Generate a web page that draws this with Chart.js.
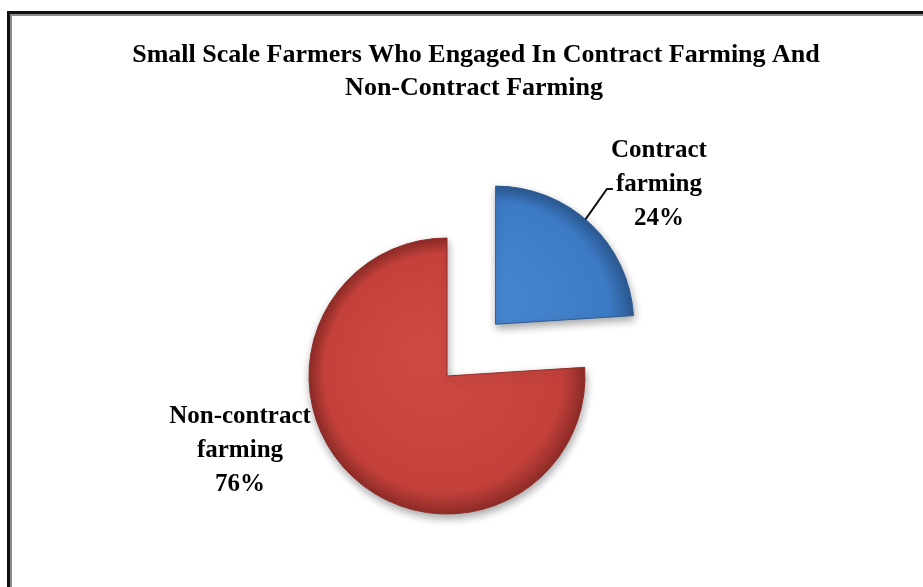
<!DOCTYPE html>
<html>
<head>
<meta charset="utf-8">
<script src="https://cdn.jsdelivr.net/npm/chart.js@4.4.0/dist/chart.umd.min.js"></script>
<style>
  html, body { margin: 0; padding: 0; background: #fff; }
  #wrap { position: relative; width: 923px; height: 587px; overflow: hidden; }
  #frame {
    position: absolute; left: 7px; top: 11px; right: -20px; bottom: -20px;
    border-left: 3px solid #111; border-top: 3px solid #111;
    box-shadow: inset 2px 2px 0 #8c8c8c;
  }
  #myChart { position: absolute; left: 0; top: 0; }
</style>
</head>
<body>
<div id="wrap">
  <div id="frame"></div>
  <canvas id="myChart" width="923" height="587"></canvas>
</div>
<script>
// data
const titleLines = ['Small Scale Farmers Who Engaged In Contract Farming And', 'Non-Contract Farming'];
const categories = ['Contract farming', 'Non-contract farming'];
const shares = [24, 76];

const sliceColors = ['#3c7ac4', '#c4413b'];
const lightColors = ['#4a88d0', '#d04a44'];
const edgeColors = ['#2c5a93', '#8f2c28'];
const serif = '"Liberation Serif", "Times New Roman", serif';
const pieRadius = 138;

// label spot (middle line baseline) relative to pie centre, in radius units
const labelSpots = [[1.536, -1.341], [-1.5, 0.587]];

function sliceFill(context) {
  const i = context.dataIndex;
  const area = context.chart.chartArea;
  if (!area) return sliceColors[i];
  const cx = (area.left + area.right) / 2;
  const cy = (area.top + area.bottom) / 2;
  const g = context.chart.ctx.createRadialGradient(cx - 25, cy - 25, 0, cx, cy, pieRadius);
  g.addColorStop(0, lightColors[i]);
  g.addColorStop(0.86, sliceColors[i]);
  g.addColorStop(1, edgeColors[i]);
  return g;
}

const titlePlugin = {
  id: 'titleText',
  afterDraw(chart) {
    const c = chart.ctx;
    c.save();
    c.fillStyle = '#000';
    c.font = 'bold 26px ' + serif;
    c.textAlign = 'center';
    c.textBaseline = 'alphabetic';
    c.fillText(titleLines[0], 476, 62);
    c.fillText(titleLines[1], 474, 95);
    c.restore();
  }
};

const shadowPlugin = {
  id: 'pieShadow',
  beforeDatasetsDraw(chart) {
    const c = chart.ctx;
    c.save();
    c.shadowColor = 'rgba(0,0,0,0.35)';
    c.shadowBlur = 9;
    c.shadowOffsetX = 1;
    c.shadowOffsetY = 4;
  },
  afterDatasetsDraw(chart) {
    chart.ctx.restore();
  }
};

const labelPlugin = {
  id: 'sliceLabels',
  afterDatasetsDraw(chart) {
    const c = chart.ctx;
    const meta = chart.getDatasetMeta(0);
    c.save();
    c.fillStyle = '#000';
    c.font = 'bold 25px ' + serif;
    c.textAlign = 'center';
    c.textBaseline = 'alphabetic';
    meta.data.forEach((arc, i) => {
      const p = arc.getProps(['x', 'y', 'outerRadius', 'startAngle', 'endAngle'], true);
      const r = p.outerRadius;
      const lx = p.x + labelSpots[i][0] * r;
      const ly = p.y + labelSpots[i][1] * r;
      const lines = categories[i].split(' ').concat([shares[i] + '%']);
      lines.forEach((t, k) => c.fillText(t, lx, ly + (k - 1) * 34));

      if (i === 0) {
        // leader line from the exploded slice to its label
        const half = (p.startAngle + p.endAngle) / 2;
        const off = (arc.options.offset || 0) / 4;
        const fix = 1 - Math.sin(Math.min(Math.PI, p.endAngle - p.startAngle));
        const shift = off * (1 + fix);
        const cx = p.x + Math.cos(half) * shift;
        const cy = p.y + Math.sin(half) * shift;
        const a = -Math.PI / 2 + 40.6 * Math.PI / 180;
        const left = lx - c.measureText(lines[1]).width / 2;
        c.strokeStyle = '#111';
        c.lineWidth = 2;
        c.beginPath();
        c.moveTo(cx + Math.cos(a) * r, cy + Math.sin(a) * r);
        c.lineTo(left - 9, ly - 2);
        c.lineTo(left - 3, ly - 2);
        c.stroke();
      }
    });
    c.restore();
  }
};

new Chart(document.getElementById('myChart'), {
  type: 'pie',
  data: {
    labels: categories,
    datasets: [{
      data: shares,
      backgroundColor: sliceFill,
      borderColor: edgeColors,
      borderWidth: 1,
      offset: [284, 0],
      radius: pieRadius,
      clip: false
    }]
  },
  options: {
    responsive: false,
    animation: false,
    layout: { padding: { top: 175, left: 0, right: 29, bottom: 10 } },
    plugins: {
      legend: { display: false },
      title: { display: false },
      tooltip: { enabled: false }
    }
  },
  plugins: [titlePlugin, shadowPlugin, labelPlugin]
});
</script>
</body>
</html>
